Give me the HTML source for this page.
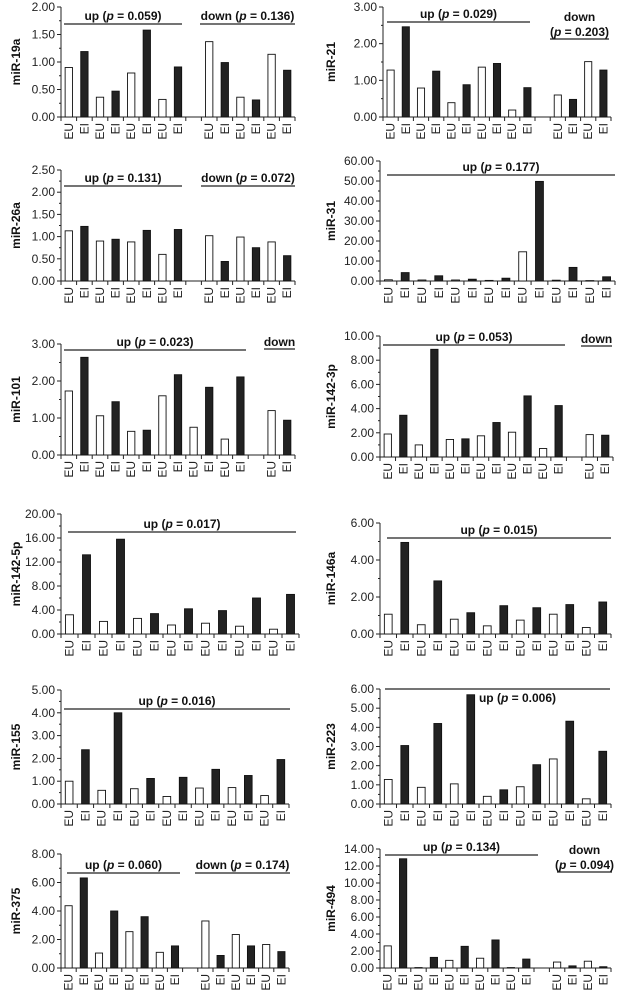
<!DOCTYPE html>
<html><head><meta charset="utf-8">
<style>
html,body{margin:0;padding:0;background:#fff;}
svg{display:block;font-family:"Liberation Sans",Arial,sans-serif;}
</style></head>
<body>
<svg id="fig" width="617" height="992" viewBox="0 0 617 992"></svg>
<script>
// ---- data ----
const cats15a = ["EU","EI","EU","EI","EU","EI","EU","EI","","EU","EI","EU","EI","EU","EI"];
const cats15b = ["EU","EI","EU","EI","EU","EI","EU","EI","EU","EI","","EU","EI","EU","EI"];
const cats15c = ["EU","EI","EU","EI","EU","EI","EU","EI","EU","EI","EU","EI","","EU","EI"];
const cats14 = ["EU","EI","EU","EI","EU","EI","EU","EI","EU","EI","EU","EI","EU","EI"];

const mir19a = [0.9,1.19,0.36,0.47,0.8,1.58,0.32,0.91,null,1.37,0.99,0.36,0.31,1.14,0.85];
const mir21 = [1.28,2.46,0.79,1.25,0.39,0.88,1.36,1.46,0.19,0.8,null,0.6,0.48,1.51,1.28];
const mir26a = [1.13,1.23,0.9,0.94,0.88,1.14,0.6,1.16,null,1.02,0.44,0.99,0.75,0.88,0.57];
const mir31 = [0.6,4.2,0.5,2.6,0.5,0.9,0.3,1.4,14.6,49.8,0.4,6.8,0.2,2.1];
const mir101 = [1.73,2.64,1.06,1.44,0.64,0.67,1.6,2.17,0.75,1.83,0.43,2.11,null,1.2,0.94];
const mir142_3p = [1.9,3.45,1.0,8.9,1.45,1.5,1.75,2.85,2.05,5.05,0.7,4.25,null,1.85,1.8];
const mir142_5p = [3.2,13.2,2.1,15.8,2.6,3.4,1.5,4.2,1.8,3.9,1.3,6.0,0.8,6.6];
const mir146a = [1.07,4.95,0.5,2.87,0.8,1.15,0.44,1.53,0.75,1.42,1.07,1.59,0.35,1.73];
const mir155 = [1.0,2.38,0.6,4.0,0.67,1.12,0.33,1.17,0.7,1.52,0.72,1.25,0.37,1.95];
const mir223 = [1.28,3.05,0.87,4.2,1.05,5.7,0.4,0.74,0.9,2.05,2.35,4.32,0.27,2.75];
const mir375 = [4.37,6.32,1.05,4.0,2.55,3.6,1.1,1.55,null,3.3,0.88,2.35,1.55,1.65,1.15];
const mir494 = [2.6,12.85,0.05,1.25,0.9,2.55,1.15,3.3,0.05,1.05,null,0.7,0.25,0.8,0.15];

const ticks19a = ["0.00","0.50","1.00","1.50","2.00"];
const ticks21 = ["0.00","1.00","2.00","3.00"];
const ticks26a = ["0.00","0.50","1.00","1.50","2.00","2.50"];
const ticks31 = ["0.00","10.00","20.00","30.00","40.00","50.00","60.00"];
const ticks101 = ["0.00","1.00","2.00","3.00"];
const ticks142_3p = ["0.00","2.00","4.00","6.00","8.00","10.00"];
const ticks142_5p = ["0.00","4.00","8.00","12.00","16.00","20.00"];
const ticks146a = ["0.00","2.00","4.00","6.00"];
const ticks155 = ["0.00","1.00","2.00","3.00","4.00","5.00"];
const ticks223 = ["0.00","1.00","2.00","3.00","4.00","5.00","6.00"];
const ticks375 = ["0.00","2.00","4.00","6.00","8.00"];
const ticks494 = ["0.00","2.00","4.00","6.00","8.00","10.00","12.00","14.00"];

// ---- layout (positions only) ----
const panels = [
 {name:"miR-19a", vals:mir19a, cats:cats15a, ticks:ticks19a, x0:61,x1:295,top:7,base:117, titleX:16,
  ann:[{t:"up",p:"0.059",lx0:64,lx1:182,ly:24},{t:"down",p:"0.136",lx0:200,lx1:295,ly:24}]},
 {name:"miR-21", vals:mir21, cats:cats15b, ticks:ticks21, x0:383,x1:611,top:7,base:117, titleX:331,
  ann:[{t:"up",p:"0.029",lx0:387,lx1:530,ly:22},{t:"down2",p:"0.203",lx0:550,lx1:609,ly:39}]},
 {name:"miR-26a", vals:mir26a, cats:cats15a, ticks:ticks26a, x0:61,x1:295,top:170,base:281, titleX:16,
  ann:[{t:"up",p:"0.131",lx0:64,lx1:182,ly:186},{t:"down",p:"0.072",lx0:201,lx1:295,ly:186}]},
 {name:"miR-31", vals:mir31, cats:cats14, ticks:ticks31, x0:380,x1:615,top:161,base:281, titleX:331,
  ann:[{t:"up",p:"0.177",lx0:387,lx1:615,ly:175}]},
 {name:"miR-101", vals:mir101, cats:cats15c, ticks:ticks101, x0:61,x1:295,top:344,base:455, titleX:16,
  ann:[{t:"up",p:"0.023",lx0:64,lx1:246,ly:350},{t:"downonly",lx0:264,lx1:295,ly:349}]},
 {name:"miR-142-3p", vals:mir142_3p, cats:cats15c, ticks:ticks142_3p, x0:380,x1:613,top:336,base:457, titleX:331,
  ann:[{t:"up",p:"0.053",lx0:383,lx1:565,ly:345},{t:"downonly",lx0:581,lx1:612,ly:346}]},
 {name:"miR-142-5p", vals:mir142_5p, cats:cats14, ticks:ticks142_5p, x0:61,x1:299,top:514,base:634, titleX:16,
  ann:[{t:"up",p:"0.017",lx0:68,lx1:296,ly:532}]},
 {name:"miR-146a", vals:mir146a, cats:cats14, ticks:ticks146a, x0:380,x1:611,top:523,base:634, titleX:331,
  ann:[{t:"up",p:"0.015",lx0:387,lx1:611,ly:538}]},
 {name:"miR-155", vals:mir155, cats:cats14, ticks:ticks155, x0:61,x1:289,top:690,base:804, titleX:16,
  ann:[{t:"up",p:"0.016",lx0:64,lx1:290,ly:709}]},
 {name:"miR-223", vals:mir223, cats:cats14, ticks:ticks223, x0:380,x1:611,top:689,base:804, titleX:331,
  ann:[{t:"upbelow",p:"0.006",lx0:385,lx1:610,ly:689}]},
 {name:"miR-375", vals:mir375, cats:cats15a, ticks:ticks375, x0:61,x1:289,top:854,base:968, titleX:16,
  ann:[{t:"up",p:"0.060",lx0:67,lx1:180,ly:873},{t:"down",p:"0.174",lx0:195,lx1:290,ly:873}]},
 {name:"miR-494", vals:mir494, cats:cats15b, ticks:ticks494, x0:380,x1:611,top:849,base:968, titleX:331,
  ann:[{t:"up",p:"0.134",lx0:385,lx1:538,ly:855},{t:"down2",p:"0.094",lx0:557,lx1:612,ly:872}]}
];

const NS="http://www.w3.org/2000/svg";
const svg=document.getElementById('fig');
function mk(tag,attrs,parent){const e=document.createElementNS(NS,tag);for(const k in attrs)e.setAttribute(k,attrs[k]);(parent||svg).appendChild(e);return e;}
function ptext(parent,label,p,x,y,name){
  const t=mk('text',{x:x,y:y,'text-anchor':'middle','font-size':'12','font-weight':'bold',fill:'#111'},parent);
  
  
  t.appendChild(document.createTextNode(label+'('));
  const ts=mk('tspan',{'font-style':'italic'},t);ts.textContent='p';
  t.appendChild(document.createTextNode(' = '+p+')'));
  return t;
}

panels.forEach((P,pi)=>{
  const g=mk('g',{});
  
  
  const maxV=parseFloat(P.ticks[P.ticks.length-1]);
  const yS=v=>P.base-(v/maxV)*(P.base-P.top);
  const n=P.cats.length, sw=(P.x1-P.x0)/n;
  const xC=i=>P.x0+sw*(i+0.5);
  const bw=Math.min(8,sw*0.47);
  const ya=mk('line',{x1:P.x0,y1:P.top,x2:P.x0,y2:P.base,stroke:'#222','stroke-width':1},g);
  
  
  const nt=P.ticks.length-1;
  for(let k=0;k<=nt;k++){
    const y=yS(parseFloat(P.ticks[k]));
    mk('line',{x1:P.x0-4,y1:y,x2:P.x0,y2:y,stroke:'#222','stroke-width':1},g);
    if(k<nt){const ym=(y+yS(parseFloat(P.ticks[k+1])))/2;mk('line',{x1:P.x0-2,y1:ym,x2:P.x0,y2:ym,stroke:'#222','stroke-width':1},g);}
    const tl=mk('text',{x:P.x0-6,y:y+4,'text-anchor':'end','font-size':'12',fill:'#222'},g);
    
    
    tl.textContent=P.ticks[k];
  }
  const xa=mk('line',{x1:P.x0,y1:P.base,x2:P.x1,y2:P.base,stroke:'#222','stroke-width':1},g);
  
  
  for(let i=0;i<=n;i++){const x=P.x0+sw*i;mk('line',{x1:x,y1:P.base,x2:x,y2:P.base+4,stroke:'#222','stroke-width':1},g);}
  P.vals.forEach((v,i)=>{
    if(v!==null){
      const y=yS(v);
      const r=mk('rect',{x:xC(i)-bw/2,y:y,width:bw,height:Math.max(0.5,P.base-y),fill:P.cats[i]==='EU'?'#fff':'#222',stroke:'#111','stroke-width':0.9},g);
      
      
    }
    if(P.cats[i]){
      const cx=xC(i)+4, cy=P.base+6;
      const t=mk('text',{x:cx,y:cy,'text-anchor':'end','font-size':'12',fill:'#222',transform:'rotate(-90 '+cx+' '+cy+')'},g);
      
      
      t.textContent=P.cats[i];
    }
  });
  const my=(P.top+P.base)/2;
  const tt=mk('text',{x:P.titleX+4,y:my,'text-anchor':'middle','font-size':'12','font-weight':'bold',fill:'#111',transform:'rotate(-90 '+(P.titleX+4)+' '+my+')'},g);
  
  
  tt.textContent=P.name;
  P.ann.forEach(a=>{
    const ln=mk('line',{x1:a.lx0,y1:a.ly,x2:a.lx1,y2:a.ly,stroke:'#222','stroke-width':1.2},g);
    
    
    const cx=(a.lx0+a.lx1)/2;
    if(a.t==='up') ptext(g,'up ',a.p,cx,a.ly-4,'up-group-label');
    else if(a.t==='upbelow') ptext(g,'up ',a.p,cx+20,a.ly+13,'up-group-label');
    else if(a.t==='down') ptext(g,'down ',a.p,cx,a.ly-4,'down-group-label');
    else if(a.t==='down2'){
      const d=mk('text',{x:cx,y:a.ly-18,'text-anchor':'middle','font-size':'12','font-weight':'bold',fill:'#111'},g);
      
      
      d.textContent='down';
      ptext(g,'',a.p,cx,a.ly-3,'down-p-value');
    } else if(a.t==='downonly'){
      const d=mk('text',{x:cx,y:a.ly-3,'text-anchor':'middle','font-size':'12','font-weight':'bold',fill:'#111'},g);
      
      
      d.textContent='down';
    }
  });
});
</script>
</body></html>
